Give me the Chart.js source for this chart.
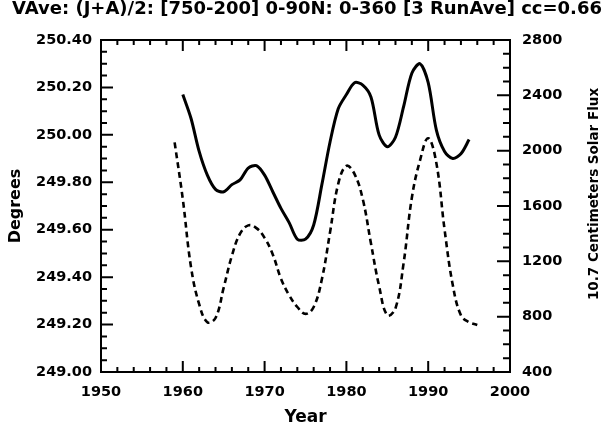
<!DOCTYPE html>
<html>
<head>
<meta charset="utf-8">
<script src="https://cdn.jsdelivr.net/npm/chart.js@4/dist/chart.umd.min.js"></script>
<style>
html,body{margin:0;padding:0;background:#fff;}
#wrap{width:614px;height:426px;position:relative;}
</style>
</head>
<body>
<div id="wrap"><canvas id="c"></canvas></div>
<script>
// ---- data ----
const titleText = "VAve: (J+A)/2: [750-200] 0-90N: 0-360 [3 RunAve] cc=0.66";
const vaveYears = [1960,1961,1962,1963,1964,1965,1966,1967,1968,1969,1970,1971,1972,1973,1974,1975,1976,1977,1978,1979,1980,1981,1982,1983,1984,1985,1986,1987,1988,1989,1990,1991,1992,1993,1994,1995];
const vaveValues = [250.17,250.07,249.93,249.83,249.77,249.76,249.79,249.81,249.86,249.87,249.83,249.76,249.69,249.63,249.56,249.56,249.62,249.79,249.97,250.11,250.17,250.22,250.21,250.16,250.00,249.95,249.99,250.12,250.26,250.30,250.22,250.02,249.93,249.90,249.92,249.98];
const fluxYears = [1959,1960,1961,1962,1963,1964,1965,1966,1967,1968,1969,1970,1971,1972,1973,1974,1975,1976,1977,1978,1979,1980,1981,1982,1983,1984,1985,1986,1987,1988,1989,1990,1991,1992,1993,1994,1995,1996];
const fluxValues = [2060,1650,1160,890,760,790,1010,1240,1400,1460,1440,1370,1250,1075,955,870,820,870,1070,1410,1760,1890,1830,1650,1330,1020,810,860,1190,1660,1930,2090,1910,1430,1030,810,760,740];
const xTickLabels = [1950,1960,1970,1980,1990,2000];
const leftTickLabels = ["249.00","249.20","249.40","249.60","249.80","250.00","250.20","250.40"];
const rightTickLabels = [400,800,1200,1600,2000,2400,2800];
const xTitle = "Year";
const leftTitle = "Degrees";
const rightTitle = "10.7 Centimeters Solar Flux";

const FONT = "'DejaVu Sans', sans-serif";

const frameTicks = {
  id: 'frameTicks',
  afterDatasetsDraw(chart) {
    const {ctx, chartArea: a, scales} = chart;
    const sx = scales.x, sl = scales.y, sr = scales.y1;
    ctx.save();
    ctx.strokeStyle = '#000';
    ctx.lineWidth = 2;
    ctx.strokeRect(a.left, a.top, a.right - a.left, a.bottom - a.top);
    ctx.beginPath();
    // x ticks (bottom and top), minor every 2 years
    for (let yr = 1950; yr <= 2000; yr += 2) {
      const px = sx.getPixelForValue(yr);
      const len = (yr % 10 === 0) ? 11 : 5;
      ctx.moveTo(px, a.bottom); ctx.lineTo(px, a.bottom - len);
      ctx.moveTo(px, a.top); ctx.lineTo(px, a.top + len);
    }
    // left ticks, minor every 0.05
    for (let i = 0; i <= 28; i++) {
      const v = 249 + i * 0.05;
      const py = sl.getPixelForValue(v);
      const len = (i % 4 === 0) ? 12 : 6;
      ctx.moveTo(a.left, py); ctx.lineTo(a.left + len, py);
    }
    // right ticks, minor every 100
    for (let v = 400; v <= 2800; v += 100) {
      const py = sr.getPixelForValue(v);
      const len = (v % 400 === 0) ? 13 : 7;
      ctx.moveTo(a.right, py); ctx.lineTo(a.right - len, py);
    }
    ctx.stroke();
    // right axis title, reading bottom to top
    ctx.fillStyle = '#000';
    ctx.font = "bold 13.5px " + FONT;
    ctx.textAlign = 'center';
    ctx.textBaseline = 'middle';
    ctx.translate(594, 194);
    ctx.rotate(-Math.PI / 2);
    ctx.fillText(rightTitle, 0, 0);
    ctx.restore();
  }
};

new Chart(document.getElementById('c'), {
  type: 'line',
  data: {
    datasets: [
      {
        label: 'VAve',
        data: vaveYears.map((x, i) => ({x, y: vaveValues[i]})),
        yAxisID: 'y',
        borderColor: '#000',
        borderWidth: 3,
        pointRadius: 0,
        tension: 0.3,
        fill: false
      },
      {
        label: 'Solar Flux',
        data: fluxYears.map((x, i) => ({x, y: fluxValues[i]})),
        yAxisID: 'y1',
        borderColor: '#000',
        borderWidth: 2.6,
        borderDash: [6, 4],
        pointRadius: 0,
        tension: 0.4,
        fill: false
      }
    ]
  },
  options: {
    responsive: true,
    maintainAspectRatio: false,
    animation: false,
    layout: { padding: 0 },
    plugins: {
      legend: { display: false },
      tooltip: { enabled: false },
      title: {
        display: true,
        text: titleText,
        color: '#000',
        font: { family: FONT, size: 18, weight: 'bold', lineHeight: 1.0 },
        padding: { top: 0, bottom: 22 }
      }
    },
    scales: {
      x: {
        type: 'linear',
        min: 1950, max: 2000,
        afterFit(s) { s.height = 54; },
        afterBuildTicks(s) { s.ticks = xTickLabels.map(v => ({value: v})); },
        grid: { display: false, drawTicks: false },
        border: { display: false },
        ticks: { color: '#000', padding: 12, maxRotation: 0, autoSkip: false,
                 font: { family: FONT, size: 14.5, weight: 'bold' },
                 callback: v => String(v) },
        title: { display: true, text: xTitle, color: '#000', padding: { top: 0, bottom: -2 },
                 font: { family: FONT, size: 17, weight: 'bold', lineHeight: 1.2 } }
      },
      y: {
        type: 'linear', position: 'left',
        min: 249.0, max: 250.4,
        afterFit(s) { s.width = 101; },
        afterBuildTicks(s) { s.ticks = leftTickLabels.map(t => ({value: parseFloat(t)})); },
        grid: { display: false, drawTicks: false },
        border: { display: false },
        ticks: { color: '#000', padding: 9, autoSkip: false,
                 font: { family: FONT, size: 14.5, weight: 'bold' },
                 callback: (v, i) => leftTickLabels[i] },
        title: { display: true, text: leftTitle, color: '#000', padding: { top: 6 },
                 font: { family: FONT, size: 16, weight: 'bold', lineHeight: 1.2 } }
      },
      y1: {
        type: 'linear', position: 'right',
        min: 400, max: 2800,
        afterFit(s) { s.width = 104; },
        afterBuildTicks(s) { s.ticks = rightTickLabels.map(v => ({value: v})); },
        grid: { display: false, drawTicks: false },
        border: { display: false },
        ticks: { color: '#000', padding: 12, autoSkip: false,
                 font: { family: FONT, size: 14.5, weight: 'bold' },
                 callback: v => String(v) }
      }
    }
  },
  plugins: [frameTicks]
});
</script>
</body>
</html>
